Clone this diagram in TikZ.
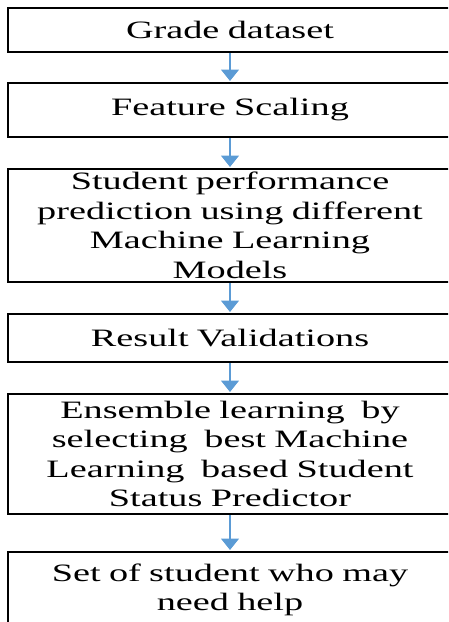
\documentclass[tikz,border=0pt]{standalone}
\usepackage{fontspec}
\setmainfont{Liberation Serif}
\newfontfamily\stepfont[FakeStretch=1.53]{Liberation Serif}
\usepackage{tikz}
\usetikzlibrary{arrows.meta, positioning}
\definecolor{flowblue}{HTML}{5B9BD5}

\begin{document}
\begin{tikzpicture}[x=1pt, y=-1pt, node distance={30pt},
        stage/.style = {draw, line width=2pt, rectangle, minimum width=444pt, inner sep=0pt,
            text width=430pt, align=center, font=\stepfont\fontsize{25}{29.5}\selectfont},
        flow/.style = {flowblue, line width=1.3pt, -{Triangle[width=18pt,length=11.5pt]}, shorten >=1pt}]
            \useasboundingbox (0,0) rectangle (448,622);
            \clip (0,0) rectangle (448,622);

            \node[stage, minimum height=44pt] (grade) at (230,30) {Grade dataset};
            \node[stage, minimum height=54pt] (scaling) [below=29pt of grade] {Feature Scaling};
            \node[stage, minimum height=113pt] (predict) [below=of scaling] {Student performance\\ prediction using different\\ Machine Learning\\ Models};
            \node[stage, minimum height=48pt] (validate) [below=of predict] {Result Validations};
            \node[stage, minimum height=120pt] (ensemble) [below=of validate] {Ensemble learning\ \ by\\ selecting\ \ best Machine\\ Learning\ \ based Student\\ Status Predictor};
            \node[stage, minimum height=76pt] (help) [below=36pt of ensemble] {Set of student who may\\ need help};

            \draw[flow] (grade) -- (scaling);
            \draw[flow] (scaling) -- (predict);
            \draw[flow] (predict) -- (validate);
            \draw[flow] (validate) -- (ensemble);
            \draw[flow] (ensemble) -- (help);
        \end{tikzpicture}
\end{document}
